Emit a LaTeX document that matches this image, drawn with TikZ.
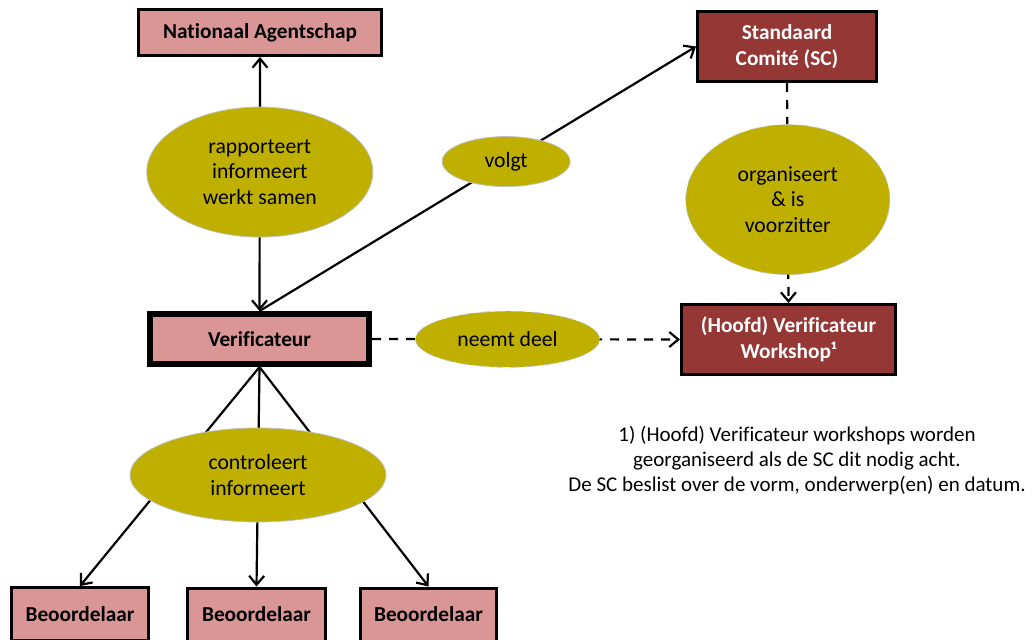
\documentclass[tikz,border=0pt]{standalone}
\usepackage{fontspec}
\setmainfont[Ligatures=NoCommon]{Carlito}
\usetikzlibrary{arrows.meta,shapes.geometric}
\definecolor{lichtrood}{RGB}{217,150,148}
\definecolor{donkerrood}{RGB}{149,55,53}
\definecolor{olijf}{RGB}{191,176,0}
\begin{document}
\begin{tikzpicture}[x=1pt,y=-1pt,
		box/.style={draw,line width=3pt,fill=lichtrood,align=center,inner sep=0pt,font=\fontsize{21.3}{26.5}\selectfont\bfseries},
		donkerbox/.style={box,fill=donkerrood,text=white},
		ell/.style={ellipse,draw=black!25,line width=0.8pt,fill=olijf,align=center,inner sep=0pt,font=\fontsize{21.7}{25.7}\selectfont},
		pijl/.style={line width=2.2pt,-{Straight Barb[length=9pt,width=15pt,line width=2.2pt]}},
		stippel/.style={pijl,dash pattern=on 9pt off 8pt}]
		\useasboundingbox (0,0) rectangle (1032,639);
		% boxes
		\node[box,minimum width=243,minimum height=46] (nat) at (260,32.5){Nationaal Agentschap};
		\node[donkerbox,minimum width=179,minimum height=70] (sc) at (787,46.5){Standaard\\Comité (SC)};
		\node[box,line width=6pt,minimum width=219,minimum height=50] (verif) at (259.5,339){Verificateur};
		\node[donkerbox,minimum width=214,minimum height=70] (ws) at (788.5,339.5){(Hoofd) Verificateur\\Workshop¹};
		\node[box,minimum width=137,minimum height=53] (beo1) at (80,614){Beoordelaar};
		\node[box,minimum width=138,minimum height=53] (beo2) at (256.5,614.5){Beoordelaar};
		\node[box,minimum width=136,minimum height=53] (beo3) at (428.5,614.5){Beoordelaar};
		% connectors
		\draw[pijl,{Straight Barb[length=9pt,width=15pt,line width=2.2pt]}-{Straight Barb[length=9pt,width=15pt,line width=2.2pt]}] (verif.north) -- node[ell,pos=0.547,minimum width=226,minimum height=130]{rapporteert\\informeert\\werkt samen} (nat.south);
		\draw[pijl] (verif.north) -- node[ell,pos=0.565,minimum width=128,minimum height=50]{volgt} (sc.west);
		\draw[stippel] (sc.south) -- node[ell,pos=0.53,minimum width=204,minimum height=150]{organiseert\\\& is\\voorzitter} (ws.north);
		\draw[stippel] (verif.east) -- node[ell,pos=0.44,minimum width=184,minimum height=56]{neemt deel} (ws.west);
		\draw[pijl] (verif.south) -- (beo1.north);
		\draw[pijl] (verif.south) -- (beo2.north);
		\draw[pijl] (verif.south) -- (beo3.north);
		\node[ell,minimum width=256,minimum height=94] (contr) at (258,475){controleert\\informeert};
		% voetnoot
		\node[align=center,font=\fontsize{21}{25}\selectfont] (noot) at (797,461){1) (Hoofd) Verificateur workshops worden\\georganiseerd als de SC dit nodig acht.\\De SC beslist over de vorm, onderwerp(en) en datum.};
\end{tikzpicture}
\end{document}
